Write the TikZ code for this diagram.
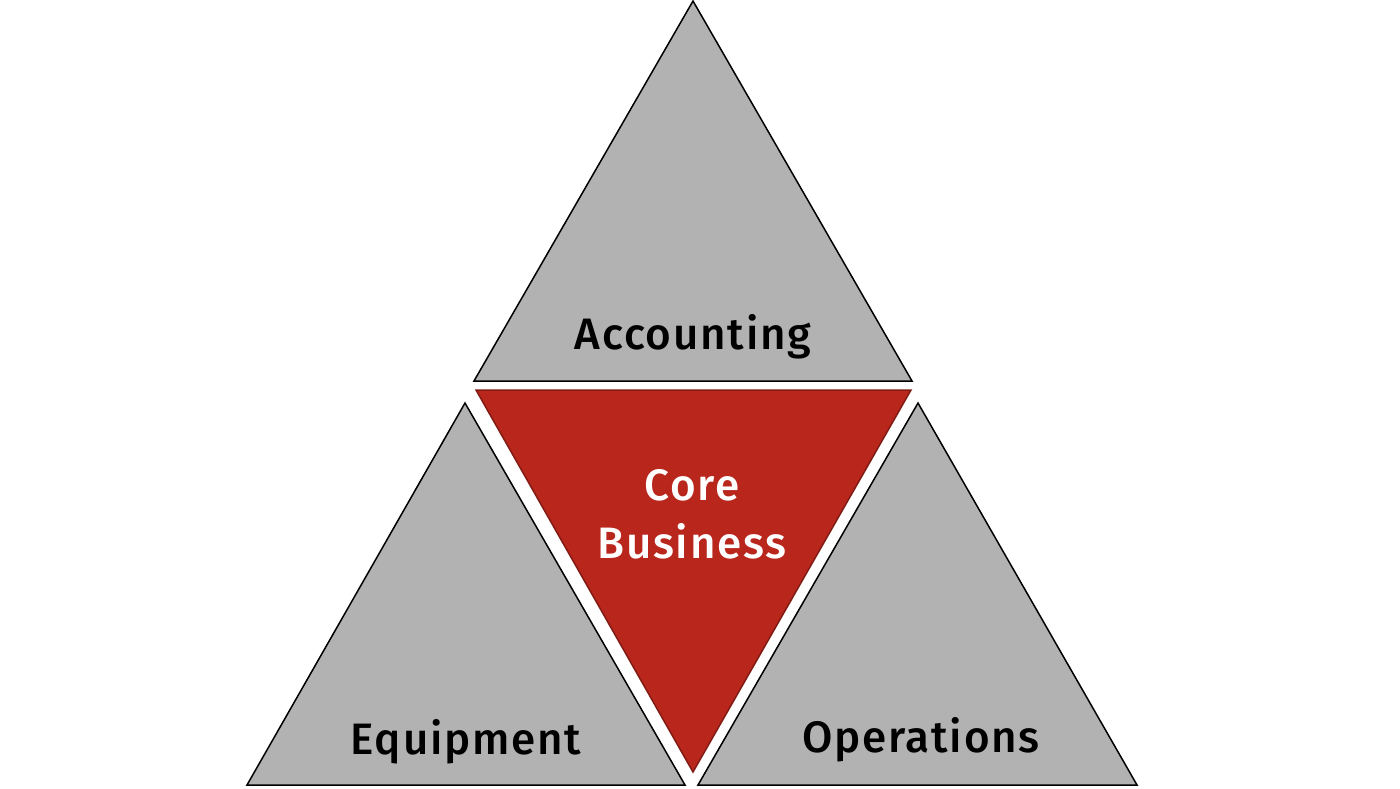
\documentclass[tikz,border=0pt]{standalone}
\usepackage{fontspec}
\setmainfont{Fira Sans}[BoldFont={Fira Sans Medium}, LetterSpace=4]
\definecolor{tgray}{RGB}{178,178,178}
\definecolor{tred}{RGB}{184,38,28}
\tikzset{
    part/.style={draw=black, fill=tgray, line width=1.5pt, line join=miter},
    core/.style={draw=tred!70!black, fill=tred, line width=1.5pt},
    label/.style={font=\fontsize{44}{50}\selectfont\bfseries, align=center}
}
\begin{document}
\begin{tikzpicture}[x=1pt, y=-1pt]
        \useasboundingbox (0,0) rectangle (1400,788);
        % outer triangles
        \draw[part] (693,  1) -- (912, 381) -- (474, 381) -- cycle;
        \draw[part] (465,403) -- (685, 785) -- (247, 785) -- cycle;
        \draw[part] (918,403) -- (1137,785) -- (698, 785) -- cycle;
        % inner triangle
        \draw[core] (476,390) -- (911, 390) -- (693, 772) -- cycle;
        % labels
        \node[label] (acc) at (693,337) {Accounting};
        \node[label, text=white] (core) at (692,514) {Core\\[8pt]Business};
        \node[label] (equ) at (466,742) {Equipment};
        \node[label] (ops) at (921,740) {Operations};
\end{tikzpicture}
\end{document}
